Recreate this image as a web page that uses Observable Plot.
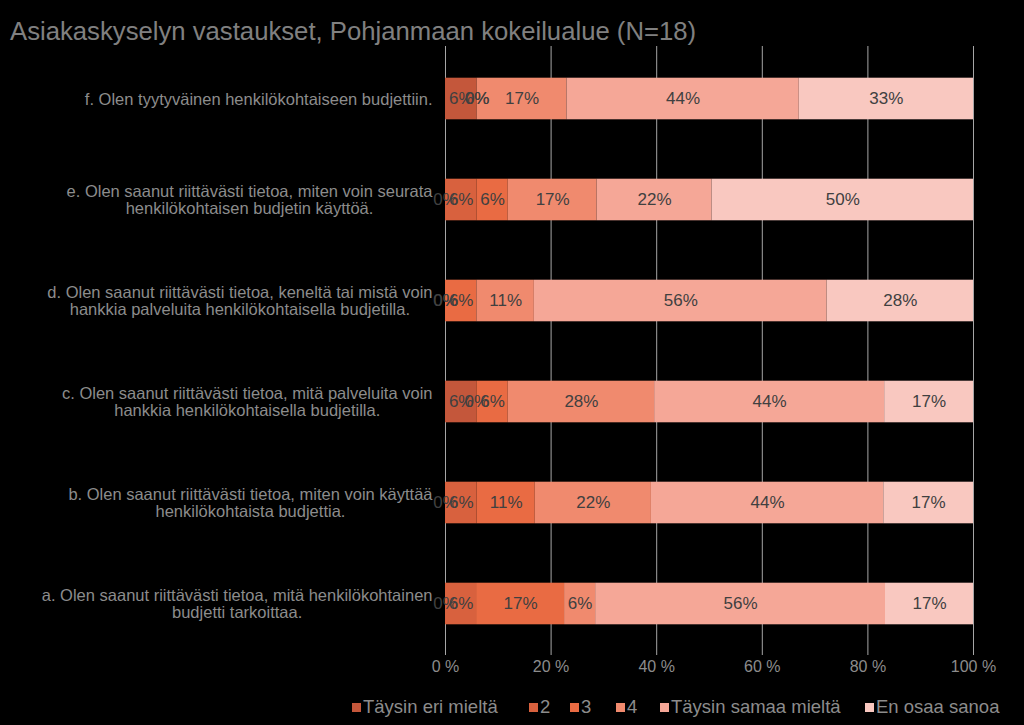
<!DOCTYPE html>
<html><head><meta charset="utf-8">
<script src="https://cdn.jsdelivr.net/npm/d3@7"></script>
<script src="https://cdn.jsdelivr.net/npm/@observablehq/plot@0.6"></script>
<style>
html,body{margin:0;padding:0;background:#000;}
#wrap{position:relative;width:1024px;height:725px;background:#000;font-family:"Liberation Sans",Arial,sans-serif;overflow:hidden}
#title{position:absolute;left:10px;top:16px;font-size:25.7px;line-height:30px;color:#808080;white-space:nowrap}
#chart{position:absolute;left:0;top:46px}
#legend{position:absolute;left:0;top:694px;width:1024px;height:26px;font-size:18.5px;color:#8c8c8c;white-space:nowrap}
.item{position:absolute;top:0;display:flex;align-items:center;height:26px}
.sw{width:9px;height:9px;margin-right:2px}
</style></head>
<body><div id="wrap">
<div id="title">Asiakaskyselyn vastaukset, Pohjanmaan kokeilualue (N=18)</div>
<div id="chart"></div>
<div id="legend"></div>
</div>
<script>
const categories = ["Täysin eri mieltä", "2", "3", "4", "Täysin samaa mieltä", "En osaa sanoa"];
const colors = ["#c4573b", "#d8613e", "#e96b43", "#f08a6e", "#f5a797", "#f9c8c0"];
const questions = [
  "f. Olen tyytyväinen henkilökohtaiseen budjettiin.",
  "e. Olen saanut riittävästi tietoa, miten voin seurata\nhenkilökohtaisen budjetin käyttöä.",
  "d. Olen saanut riittävästi tietoa, keneltä tai mistä voin\nhankkia palveluita henkilökohtaisella budjetilla.",
  "c. Olen saanut riittävästi tietoa, mitä palveluita voin\nhankkia henkilökohtaisella budjetilla.",
  "b. Olen saanut riittävästi tietoa, miten voin käyttää\nhenkilökohtaista budjettia.",
  "a. Olen saanut riittävästi tietoa, mitä henkilökohtainen\nbudjetti tarkoittaa."
];
const valuesF = [6, 0, 0, 17, 44, 33];
const valuesE = [0, 6, 6, 17, 22, 50];
const valuesD = [0, 0, 6, 11, 56, 28];
const valuesC = [6, 0, 6, 28, 44, 17];
const valuesB = [0, 6, 11, 22, 44, 17];
const valuesA = [0, 6, 17, 6, 56, 17];
const xTicks = [0, 0.2, 0.4, 0.6, 0.8, 1];
const legendLeft = [352, 529, 570, 616, 660, 865];

const series = [valuesF, valuesE, valuesD, valuesC, valuesB, valuesA];
const data = [];
questions.forEach((q, i) => categories.forEach((c, j) => data.push({q, cat: c, v: series[i][j]})));

const font = '"Liberation Sans", Arial, sans-serif';
const svg = Plot.plot({
  width: 1024, height: 634,
  marginLeft: 445, marginRight: 51, marginTop: 0, marginBottom: 25,
  style: {background: "transparent", fontFamily: font},
  x: {domain: [0, 1]},
  y: {domain: questions, padding: 0},
  color: {domain: categories, range: colors},
  marks: [
    Plot.gridX(xTicks, {stroke: "#a6a6a6", strokeOpacity: 1}),
    Plot.barX(data, Plot.stackX({x: "v", y: "q", fill: "cat", offset: "normalize", insetTop: 29.7, insetBottom: 29.7})),
    Plot.text(data, Plot.stackX({x: "v", y: "q", z: "cat", offset: "normalize", text: d => d.v + "%", fill: "#404040", fontSize: 17})),
    Plot.axisX(xTicks, {tickSize: 0, tickPadding: 5, tickFormat: d => Math.round(d * 100) + " %", fill: "#8c8c8c", fontSize: 16, label: null}),
    Plot.axisY({tickSize: 0, tickPadding: 0, textAnchor: "middle", lineHeight: 1.05, fill: "#8c8c8c", fontSize: 16.5, label: null})
  ]
});
document.getElementById("chart").appendChild(svg);

// center each multi-line y label as a block whose widest line ends 13px left of the axis
svg.querySelectorAll('g[aria-label="y-axis tick label"] text').forEach(t => {
  const spans = t.querySelectorAll("tspan");
  let w = 0;
  if (spans.length) spans.forEach(s => { w = Math.max(w, s.getComputedTextLength()); });
  else w = t.getComputedTextLength();
  const tr = t.getAttribute("transform") || "";
  t.setAttribute("transform", tr + ` translate(${-(13 + w / 2)},0)`);
});

const legend = document.getElementById("legend");
categories.forEach((c, i) => {
  const it = document.createElement("div"); it.className = "item"; it.style.left = legendLeft[i] + "px";
  const sw = document.createElement("div"); sw.className = "sw"; sw.style.background = colors[i];
  const tx = document.createElement("span"); tx.textContent = c;
  it.appendChild(sw); it.appendChild(tx); legend.appendChild(it);
});
</script>
</body></html>
